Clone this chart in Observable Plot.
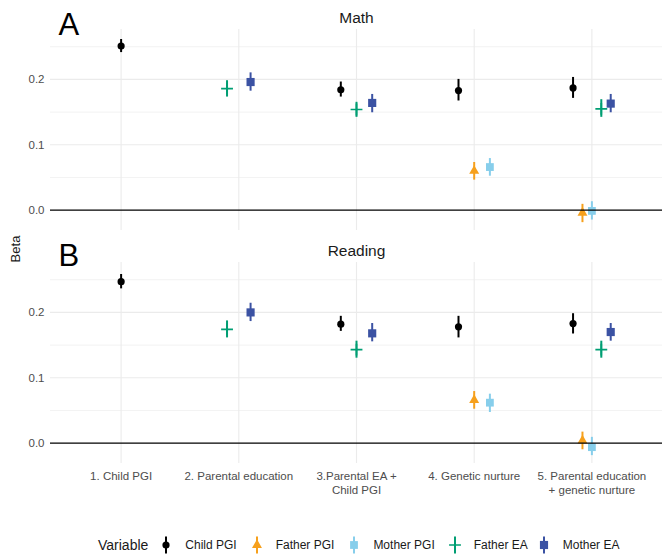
<!DOCTYPE html>
<html>
<head>
<meta charset="utf-8">
<script src="https://cdn.jsdelivr.net/npm/d3@7"></script>
<script src="https://cdn.jsdelivr.net/npm/@observablehq/plot@0.6"></script>
<style>
  html, body { margin: 0; padding: 0; background: #fff; }
  body { font-family: "Liberation Sans", Arial, Helvetica, sans-serif; }
  #wrap { position: relative; width: 662px; height: 557px; overflow: hidden; }
  #wrap > .abs { position: absolute; left: 0; }
  #beta { position: absolute; left: 15px; top: 249px; transform: translate(-50%, -50%) rotate(-90deg); font-size: 13px; color: #1a1a1a; white-space: nowrap; }
  #legend { position: absolute; left: 98px; top: 536px; height: 18px; display: flex; align-items: center; }
  #legend .title { font-size: 14px; color: #1a1a1a; }
  #legend .lab { font-size: 12px; color: #1a1a1a; margin-left: 11px; white-space: nowrap; }
  #legend svg { display: block; }
</style>
</head>
<body>
<div id="wrap"></div>
<script>
// ---- data ----
const categories = [
  "1. Child PGI",
  "2. Parental education",
  "3.Parental EA +\nChild PGI",
  "4. Genetic nurture",
  "5. Parental education\n+ genetic nurture"
];
const variables = ["Child PGI", "Father PGI", "Mother PGI", "Father EA", "Mother EA"];
const rowModel = [1, 2, 2, 3, 3, 3, 4, 4, 4, 5, 5, 5, 5, 5];
const rowVariable = [
  "Child PGI",
  "Father EA", "Mother EA",
  "Child PGI", "Father EA", "Mother EA",
  "Child PGI", "Father PGI", "Mother PGI",
  "Child PGI", "Father PGI", "Mother PGI", "Father EA", "Mother EA"
];
const mathBeta  = [0.251, 0.186, 0.196, 0.184, 0.154, 0.164, 0.183, 0.060, 0.066, 0.187, -0.004, -0.001, 0.155, 0.163];
const mathLow   = [0.241, 0.173, 0.182, 0.173, 0.142, 0.149, 0.167, 0.046, 0.052, 0.171, -0.019, -0.015, 0.142, 0.149];
const mathHigh  = [0.261, 0.198, 0.210, 0.196, 0.165, 0.177, 0.200, 0.073, 0.079, 0.203,  0.009,  0.013, 0.169, 0.177];
const readBeta  = [0.247, 0.174, 0.200, 0.182, 0.143, 0.168, 0.178, 0.066, 0.062, 0.183,  0.004, -0.006, 0.143, 0.170];
const readLow   = [0.236, 0.161, 0.186, 0.171, 0.130, 0.155, 0.161, 0.052, 0.047, 0.167, -0.010, -0.019, 0.130, 0.156];
const readHigh  = [0.258, 0.187, 0.214, 0.194, 0.156, 0.183, 0.194, 0.079, 0.075, 0.198,  0.017,  0.009, 0.156, 0.183];
const yTicks = [0, 0.1, 0.2];

// ---- styles ----
const varColors  = ["#000000", "#F6A01C", "#87CEEB", "#009E73", "#3B52A3"];
const varSymbols = ["circle", "triangle", "square", "plus", "square"];
const varRadius  = [3.6, 3.7, 4.4, 3.9, 4.6];
const legendGap  = [10, 12, 12, 12, 8];
const FONT = "Liberation Sans, Arial, Helvetica, sans-serif";

function buildRows(beta, low, high) {
  const rows = rowModel.map((m, i) => ({model: m, variable: rowVariable[i], beta: beta[i], lo: low[i], hi: high[i]}));
  // position_dodge(width = 0.4), ordered by variable level
  const groups = d3.group(rows, d => d.model);
  for (const [, g] of groups) {
    g.sort((a, b) => variables.indexOf(a.variable) - variables.indexOf(b.variable));
    const n = g.length;
    g.forEach((d, j) => { d.xpos = d.model + (j - (n - 1) / 2) * 0.4 / n; });
  }
  return rows;
}

function panel({rows, title, letter, height, marginTop, marginBottom, titleDy, letterDy, showX}) {
  const marks = [
    Plot.ruleY([0.05, 0.15, 0.25], {stroke: "#ebebeb", strokeWidth: 0.6}),
    Plot.ruleY([0.1, 0.2], {stroke: "#ebebeb", strokeWidth: 1.1}),
    Plot.ruleX(categories.map((c, i) => i + 1), {stroke: "#ebebeb", strokeWidth: 1.1}),
    Plot.ruleX(rows, {x: "xpos", y1: "lo", y2: "hi", stroke: "variable", strokeWidth: 2})
  ];
  variables.forEach((v, i) => {
    const sub = rows.filter(d => d.variable === v);
    if (varSymbols[i] === "plus") {
      marks.push(Plot.dot(sub, {x: "xpos", y: "beta", symbol: () => "plus", stroke: varColors[i], fill: "none", strokeWidth: 1.7, r: varRadius[i]}));
    } else {
      marks.push(Plot.dot(sub, {x: "xpos", y: "beta", symbol: () => varSymbols[i], fill: varColors[i], stroke: "none", r: varRadius[i]}));
    }
  });
  marks.push(Plot.ruleY([0], {stroke: "#000", strokeWidth: 1.3}));
  marks.push(Plot.text([title], {text: d => d, frameAnchor: "top", lineAnchor: "bottom", dy: titleDy, fontSize: 15.5, fill: "#1a1a1a"}));
  marks.push(Plot.text([letter], {text: d => d, frameAnchor: "top-left", textAnchor: "start", lineAnchor: "bottom", dx: 8, dy: letterDy, fontSize: 31, fill: "#000"}));
  if (showX) {
    marks.push(Plot.axisX(categories.map((c, i) => i + 1), {
      tickFormat: i => categories[i - 1], tickSize: 0, tickPadding: 6,
      lineHeight: 1.24, fontSize: 11.5, color: "#4d4d4d", label: null
    }));
  }
  return Plot.plot({
    width: 662,
    height,
    marginLeft: 50,
    marginRight: 0,
    marginTop,
    marginBottom,
    style: {fontFamily: FONT, fontSize: "11.5px", color: "#4d4d4d", background: "transparent", overflow: "visible"},
    x: {domain: [0.4, 5.6], axis: null},
    y: {domain: [-0.031, 0.2763], ticks: yTicks, tickFormat: d3.format(".1f"), tickSize: 0, tickPadding: 6, label: null},
    color: {domain: variables, range: varColors},
    symbol: {domain: variables, range: varSymbols},
    marks
  });
}

const wrap = document.getElementById("wrap");

const pA = panel({rows: buildRows(mathBeta, mathLow, mathHigh), title: "Math", letter: "A",
  height: 231, marginTop: 29, marginBottom: 1, titleDy: -6.7, letterDy: 5.3, showX: false});
pA.classList.add("abs"); pA.style.top = "0px";
wrap.appendChild(pA);

const pB = panel({rows: buildRows(readBeta, readLow, readHigh), title: "Reading", letter: "B",
  height: 280, marginTop: 30, marginBottom: 49, titleDy: -7, letterDy: 3.7, showX: true});
pB.classList.add("abs"); pB.style.top = "232px";
wrap.appendChild(pB);

const beta = document.createElement("div");
beta.id = "beta"; beta.textContent = "Beta";
wrap.appendChild(beta);

// legend
const legend = document.createElement("div");
legend.id = "legend";
const lt = document.createElement("span");
lt.className = "title"; lt.textContent = "Variable";
legend.appendChild(lt);
variables.forEach((v, i) => {
  const svg = d3.create("svg").attr("width", 16).attr("height", 18)
    .style("margin-left", legendGap[i] + "px");
  svg.append("line").attr("x1", 8).attr("x2", 8).attr("y1", 0.5).attr("y2", 17.5)
    .attr("stroke", varColors[i]).attr("stroke-width", 2);
  const symMap = {circle: d3.symbolCircle, triangle: d3.symbolTriangle, square: d3.symbolSquare, plus: d3.symbolPlus};
  const r = varRadius[i];
  const path = svg.append("path").attr("transform", "translate(8,9)")
    .attr("d", d3.symbol(symMap[varSymbols[i]], r * r * Math.PI)());
  if (varSymbols[i] === "plus") path.attr("fill", "none").attr("stroke", varColors[i]).attr("stroke-width", 1.7);
  else path.attr("fill", varColors[i]);
  legend.appendChild(svg.node());
  const lab = document.createElement("span");
  lab.className = "lab"; lab.textContent = v;
  legend.appendChild(lab);
});
wrap.appendChild(legend);
</script>
</body>
</html>
